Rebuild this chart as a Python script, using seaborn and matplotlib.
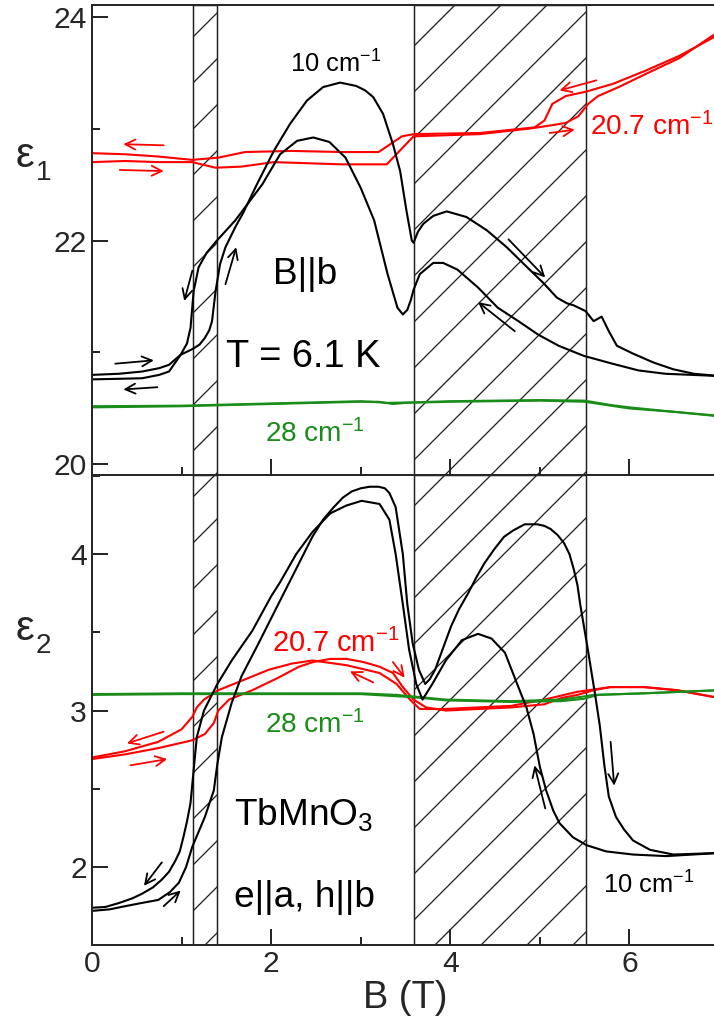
import numpy as np
import pandas as pd
import matplotlib
matplotlib.use("Agg")
import matplotlib.pyplot as plt
import seaborn as sns
from matplotlib.ticker import MultipleLocator

# ---------------- data ----------------
hatch_ranges = [(1.13, 1.40), (3.59, 5.51)]

# Top panel: eps1, 10 cm^-1, field up-sweep
e1_10_up_B = [0.0, 0.3, 0.56, 0.75, 0.86, 0.99, 1.12, 1.2, 1.26, 1.31, 1.34, 1.38, 1.43, 1.49, 1.60,
              1.69, 1.84, 2.03, 2.21, 2.40, 2.58, 2.77, 2.95, 3.05, 3.14, 3.25, 3.36, 3.44, 3.51,
              3.57, 3.59, 3.64, 3.70, 3.81, 3.96, 4.18, 4.41, 4.63, 4.86, 5.04, 5.19, 5.30, 5.38,
              5.51, 5.60, 5.69, 5.77, 5.86, 6.04, 6.27, 6.49, 6.72, 7.0]
e1_10_up = [20.80, 20.81, 20.83, 20.86, 20.89, 20.98, 21.03, 21.07, 21.13, 21.20, 21.28, 21.55, 21.79,
            21.94, 22.12, 22.25, 22.50, 22.80, 23.04, 23.25, 23.37, 23.41, 23.38, 23.34, 23.28,
            23.13, 22.86, 22.62, 22.27, 22.00, 21.98, 22.08, 22.15, 22.22, 22.26, 22.21, 22.09,
            21.94, 21.76, 21.62, 21.49, 21.44, 21.42, 21.37, 21.28, 21.32, 21.19, 21.06, 20.99,
            20.91, 20.85, 20.81, 20.79]
# Top panel: eps1, 10 cm^-1, field down-sweep
e1_10_dn_B = [0.0, 0.3, 0.56, 0.75, 0.86, 0.99, 1.06, 1.10, 1.135, 1.19, 1.28, 1.395, 1.6, 1.9, 2.1,
              2.29, 2.47, 2.65, 2.83, 3.0, 3.15, 3.30, 3.41, 3.47, 3.52, 3.56, 3.59, 3.66, 3.81,
              3.92, 4.08, 4.31, 4.53, 4.76, 4.98, 5.21, 5.49, 5.81, 6.1, 6.4, 7.0]
e1_10_dn = [20.76, 20.765, 20.77, 20.80, 20.83, 20.98, 21.08, 21.22, 21.55, 21.76, 21.89, 22.00,
            22.18, 22.50, 22.77, 22.89, 22.92, 22.88, 22.74, 22.47, 22.18, 21.70, 21.40, 21.34,
            21.38, 21.47, 21.56, 21.70, 21.80, 21.80, 21.74, 21.58, 21.40, 21.28, 21.16, 21.06,
            20.97, 20.90, 20.84, 20.81, 20.79]
# Top panel: eps1, 20.7 cm^-1
e1_207_dn_B = [0.0, 0.37, 0.74, 1.12, 1.41, 1.71, 2.23, 2.79, 3.2, 3.46, 3.59, 4.33, 4.94, 5.05, 5.14,
               5.29, 5.52, 5.82, 6.19, 6.56, 6.93, 7.0]
e1_207_dn = [22.78, 22.77, 22.75, 22.72, 22.74, 22.79, 22.80, 22.79, 22.79, 22.93, 22.95, 22.96, 23.01,
             23.07, 23.22, 23.29, 23.33, 23.40, 23.52, 23.65, 23.81, 23.85]
e1_207_up_B = [0.0, 0.37, 0.74, 1.12, 1.38, 1.67, 2.03, 2.79, 3.29, 3.59, 4.33, 4.89, 5.14, 5.29, 5.43,
               5.54, 5.65, 5.88, 6.19, 6.56, 6.93, 7.0]
e1_207_up = [22.70, 22.71, 22.70, 22.70, 22.65, 22.66, 22.70, 22.68, 22.68, 22.93, 22.95, 23.00, 23.03,
             23.05, 23.11, 23.22, 23.29, 23.37, 23.49, 23.63, 23.83, 23.86]
# Top panel: eps1, 28 cm^-1
e1_28_a_B = [0.0, 1.0, 2.0, 2.5, 3.0, 3.2, 3.36, 3.5, 4.0, 4.5, 5.0, 5.5, 6.0, 6.5, 7.0]
e1_28_a = [20.51, 20.52, 20.54, 20.55, 20.56, 20.56, 20.54, 20.55, 20.56, 20.565, 20.57, 20.56, 20.50,
           20.47, 20.43]
e1_28_b_B = [0.0, 1.0, 2.0, 3.0, 3.3, 3.6, 4.0, 5.0, 5.5, 5.8, 6.0, 6.5, 7.0]
e1_28_b = [20.52, 20.525, 20.545, 20.565, 20.55, 20.555, 20.565, 20.575, 20.57, 20.53, 20.51, 20.47,
           20.435]

# Bottom panel: eps2, 10 cm^-1
e2_10_up_B = [0.0, 0.2, 0.37, 0.55, 0.74, 0.87, 0.97, 1.05, 1.12, 1.26, 1.36, 1.40, 1.45, 1.56, 1.67,
              1.86, 2.08, 2.31, 2.46, 2.58, 2.7, 2.8, 2.9, 3.0, 3.1, 3.2, 3.27, 3.32, 3.39, 3.47,
              3.52, 3.58, 3.65, 3.72, 3.77, 3.83, 3.92, 4.01, 4.10, 4.20, 4.29, 4.38, 4.49, 4.60,
              4.70, 4.83, 4.97, 5.05, 5.12, 5.20, 5.27, 5.33, 5.38, 5.42, 5.45, 5.53, 5.62, 5.67,
              5.72, 5.77, 5.85, 5.94, 6.04, 6.23, 6.49, 7.0]
e2_10_up = [1.72, 1.73, 1.75, 1.77, 1.79, 1.84, 1.90, 2.00, 2.13, 2.32, 2.49, 2.66, 2.83, 3.05, 3.22,
            3.43, 3.68, 3.94, 4.11, 4.22, 4.30, 4.36, 4.40, 4.42, 4.43, 4.43, 4.42, 4.39, 4.30,
            4.00, 3.68, 3.43, 3.26, 3.17, 3.20, 3.26, 3.40, 3.54, 3.65, 3.75, 3.85, 3.94, 4.03,
            4.11, 4.15, 4.19, 4.19, 4.18, 4.16, 4.12, 4.07, 4.00, 3.90, 3.80, 3.68, 3.41, 3.09,
            2.90, 2.65, 2.45, 2.32, 2.24, 2.17, 2.11, 2.08, 2.09]
e2_10_dn_B = [0.0, 0.15, 0.30, 0.45, 0.56, 0.68, 0.78, 0.86, 0.93, 0.98, 1.02, 1.06, 1.10, 1.135,
              1.17, 1.25, 1.40, 1.56, 1.79, 2.0, 2.1, 2.28, 2.46, 2.66, 2.84, 3.01, 3.21, 3.32, 3.39,
              3.47, 3.54, 3.62, 3.69, 3.80, 3.95, 4.13, 4.31, 4.46, 4.61, 4.76, 4.85, 4.93, 5.0,
              5.07, 5.15, 5.22, 5.37, 5.52, 5.74, 6.04, 6.41, 7.0]
e2_10_dn = [1.74, 1.745, 1.77, 1.80, 1.83, 1.87, 1.92, 1.97, 2.04, 2.10, 2.19, 2.29, 2.41, 2.62, 2.83,
            3.00, 3.17, 3.32, 3.51, 3.73, 3.82, 4.00, 4.14, 4.26, 4.31, 4.34, 4.32, 4.22, 4.00,
            3.68, 3.39, 3.17, 3.07, 3.17, 3.32, 3.45, 3.49, 3.46, 3.37, 3.15, 3.02, 2.85, 2.64,
            2.49, 2.36, 2.28, 2.19, 2.14, 2.10, 2.08, 2.07, 2.09]
# Bottom panel: eps2, 20.7 cm^-1
e2_207_dn_B = [0.0, 0.37, 0.74, 1.0, 1.12, 1.17, 1.25, 1.41, 1.67, 1.97, 2.23, 2.46, 2.84, 3.21, 3.40,
               3.55, 3.66, 3.95, 4.31, 4.68, 5.05, 5.42, 5.79, 6.16, 6.53, 6.91, 7.0]
e2_207_dn = [2.70, 2.74, 2.80, 2.88, 2.96, 3.02, 3.07, 3.13, 3.19, 3.26, 3.30, 3.32, 3.29, 3.24, 3.17,
             3.07, 3.01, 3.01, 3.02, 3.03, 3.07, 3.12, 3.15, 3.15, 3.13, 3.09, 3.08]
e2_207_up_B = [0.0, 0.37, 0.74, 1.12, 1.26, 1.36, 1.41, 1.53, 1.79, 2.08, 2.31, 2.47, 2.66, 2.84, 3.03,
               3.21, 3.36, 3.47, 3.59, 3.73, 3.95, 4.31, 4.68, 5.05, 5.24, 5.42, 5.6, 5.79, 6.16, 6.53,
               6.91, 7.0]
e2_207_up = [2.69, 2.72, 2.76, 2.81, 2.85, 2.92, 3.00, 3.07, 3.13, 3.21, 3.28, 3.31, 3.33, 3.33, 3.31,
             3.28, 3.24, 3.15, 3.07, 3.02, 3.00, 3.01, 3.02, 3.04, 3.08, 3.10, 3.13, 3.15, 3.15, 3.13,
             3.09, 3.08]
# Bottom panel: eps2, 28 cm^-1
e2_28_a_B = [0.0, 1.0, 2.0, 3.0, 3.4, 3.59, 3.95, 4.68, 5.24, 5.49, 5.6, 6.16, 7.0]
e2_28_a = [3.105, 3.11, 3.11, 3.11, 3.10, 3.09, 3.07, 3.06, 3.07, 3.09, 3.10, 3.11, 3.13]
e2_28_b_B = [0.0, 1.0, 2.0, 3.0, 3.59, 3.95, 4.68, 5.24, 5.49, 5.65, 6.16, 7.0]
e2_28_b = [3.10, 3.105, 3.105, 3.105, 3.085, 3.065, 3.055, 3.06, 3.075, 3.10, 3.11, 3.13]

# sweep-direction arrows: (tail B, tail eps, head B, head eps, colour)
arrows_top = [(0.26, 20.90, 0.69, 20.93, "black"), (0.73, 20.69, 0.35, 20.67, "black"),
              (1.12, 21.73, 1.03, 21.46, "black"), (1.49, 21.61, 1.61, 21.94, "black"),
              (4.65, 22.01, 5.06, 21.67, "black"), (4.72, 21.19, 4.31, 21.45, "black"),
              (0.80, 22.85, 0.35, 22.86, "red"), (0.31, 22.63, 0.80, 22.62, "red"),
              (5.63, 23.43, 5.22, 23.34, "red"), (5.11, 22.96, 5.39, 22.99, "red")]
arrows_bot = [(0.78, 2.03, 0.58, 1.88, "black"), (0.80, 1.75, 0.99, 1.85, "black"),
              (5.06, 2.375, 4.94, 2.65, "black"), (5.79, 2.80, 5.83, 2.52, "black"),
              (0.80, 2.865, 0.39, 2.79, "red"), (0.43, 2.65, 0.84, 2.69, "red"),
              (3.36, 3.31, 3.49, 3.21, "red"), (3.14, 3.18, 2.88, 3.25, "red")]

# ---------------- style ----------------
DPI = 138
PT = 72.0 / DPI  # points per pixel
GREEN = "#1a8c1a"
sns.set_style("ticks")
plt.rcParams["font.family"] = ["Liberation Sans", "DejaVu Sans"]
plt.rcParams["mathtext.fontset"] = "custom"
plt.rcParams["mathtext.rm"] = "Liberation Sans"
plt.rcParams["mathtext.it"] = "Liberation Sans:italic"
plt.rcParams["mathtext.default"] = "regular"
plt.rcParams["hatch.color"] = "black"
plt.rcParams["hatch.linewidth"] = 1.3 * PT

fig = plt.figure(figsize=(714 / DPI, 1028 / DPI), dpi=DPI)
L, Wd = 92 / 714, (719 - 92) / 714
ax1 = fig.add_axes([L, 1 - 475 / 1028, Wd, 470 / 1028])
ax2 = fig.add_axes([L, 1 - 945 / 1028, Wd, 470 / 1028])

LW = 2.1 * PT


def line(ax, xb, yv, color):
    sns.lineplot(x=xb, y=yv, ax=ax, color=color, lw=LW, estimator=None, sort=False, legend=False)


for ax in (ax1, ax2):
    for a, b in hatch_ranges:
        ax.axvspan(a, b, facecolor="none", edgecolor="#222222", hatch="/", lw=1.5 * PT, zorder=0.5)

line(ax1, e1_207_dn_B, e1_207_dn, "red")
line(ax1, e1_207_up_B, e1_207_up, "red")
line(ax1, e1_28_a_B, e1_28_a, GREEN)
line(ax1, e1_28_b_B, e1_28_b, GREEN)
line(ax1, e1_10_up_B, e1_10_up, "black")
line(ax1, e1_10_dn_B, e1_10_dn, "black")

line(ax2, e2_207_dn_B, e2_207_dn, "red")
line(ax2, e2_207_up_B, e2_207_up, "red")
line(ax2, e2_28_a_B, e2_28_a, GREEN)
line(ax2, e2_28_b_B, e2_28_b, GREEN)
line(ax2, e2_10_up_B, e2_10_up, "black")
line(ax2, e2_10_dn_B, e2_10_dn, "black")

for ax, arrs in ((ax1, arrows_top), (ax2, arrows_bot)):
    for x0, y0, x1, y1, c in arrs:
        ax.annotate("", xy=(x1, y1), xytext=(x0, y0),
                    arrowprops=dict(arrowstyle="->", color=c, lw=1.8 * PT, shrinkA=0, shrinkB=0,
                                    mutation_scale=13))

ax1.set_xlim(0, 7)
ax2.set_xlim(0, 7)
ax1.set_ylim(19.906, 24.103)
ax2.set_ylim(1.502, 4.505)
ax1.yaxis.set_major_locator(MultipleLocator(2))
ax1.yaxis.set_minor_locator(MultipleLocator(1))
ax2.yaxis.set_major_locator(MultipleLocator(1))
ax2.yaxis.set_minor_locator(MultipleLocator(0.5))
for ax in (ax1, ax2):
    ax.xaxis.set_major_locator(MultipleLocator(2))
    ax.xaxis.set_minor_locator(MultipleLocator(1))
    ax.tick_params(which="both", direction="in", width=2 * PT, top=False, right=False,
                   labelsize=30 * PT, pad=5 * PT)
    ax.tick_params(which="major", length=16 * PT)
    ax.tick_params(which="minor", length=8 * PT)
    for s in ax.spines.values():
        s.set_linewidth(2 * PT)
    ax.set_ylabel("")
    ax.set_xlabel("")
ax1.tick_params(labelbottom=False)
ax2.set_xlabel("B (T)", fontsize=38 * PT, labelpad=1)

# annotations
tk = dict(ha="left", va="baseline")
ax1.text(2.21, 23.50, "10 cm$^{-1}$", fontsize=25.5 * PT, color="black", **tk)
ax1.text(5.56, 22.94, "20.7 cm$^{-1}$", fontsize=28 * PT, color="red", **tk)
ax1.text(2.02, 21.61, "B||b", fontsize=37 * PT, color="black", **tk)
ax1.text(1.50, 20.87, "T = 6.1 K", fontsize=38 * PT, color="black", **tk)
ax1.text(1.93, 20.20, "28 cm$^{-1}$", fontsize=28 * PT, color=GREEN, **tk)

ax2.text(2.01, 3.376, "20.7 cm$^{-1}$", fontsize=29 * PT, color="red", **tk)
ax2.text(1.93, 2.854, "28 cm$^{-1}$", fontsize=28 * PT, color=GREEN, **tk)
ax2.text(1.58, 2.268, "TbMnO$_3$", fontsize=37 * PT, color="black", **tk)
ax2.text(1.58, 1.746, "e||a, h||b", fontsize=37 * PT, color="black", **tk)
ax2.text(5.71, 1.832, "10 cm$^{-1}$", fontsize=25.5 * PT, color="black", **tk)

# axis symbols eps1 / eps2
fig.text(16 / 714, 1 - 167 / 1028, "ε", fontsize=42 * PT, ha="left", va="baseline")
fig.text(36 / 714, 1 - 180 / 1028, "1", fontsize=28 * PT, ha="left", va="baseline")
fig.text(16 / 714, 1 - 640 / 1028, "ε", fontsize=42 * PT, ha="left", va="baseline")
fig.text(36 / 714, 1 - 653 / 1028, "2", fontsize=28 * PT, ha="left", va="baseline")

fig.savefig("out.png", dpi=DPI)
